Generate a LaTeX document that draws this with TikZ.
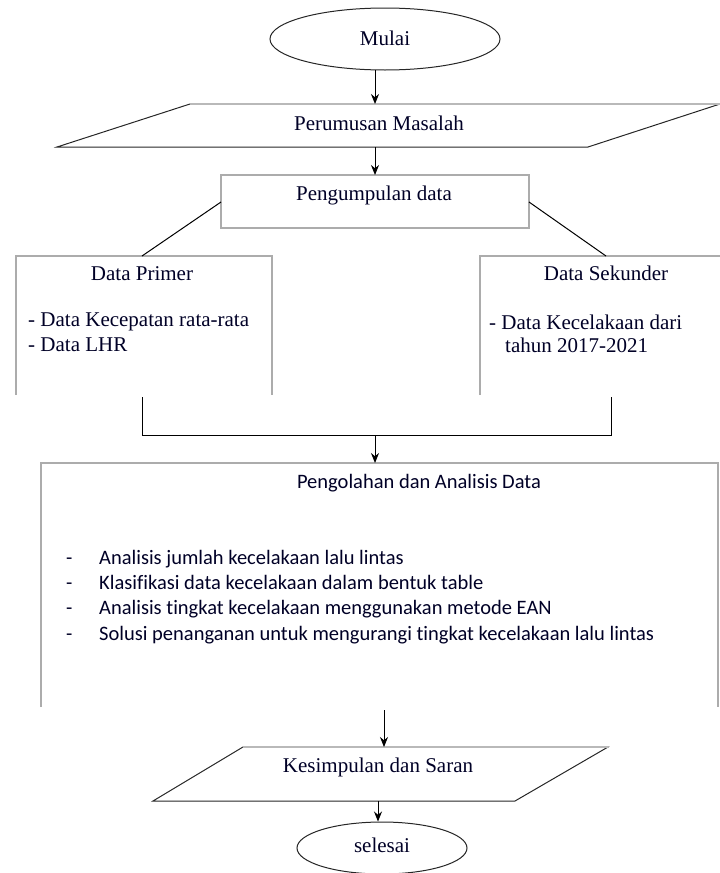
\documentclass[tikz,border=0pt]{standalone}
\usepackage{fontspec}
\setmainfont{Liberation Serif}
\newfontfamily\calib[Ligatures=NoCommon]{Carlito}
\usetikzlibrary{shapes.geometric,arrows.meta}
\begin{document}
\begin{tikzpicture}[x=1pt,y=-1pt,
  every node/.style={font=\fontsize{21}{24}\selectfont, inner sep=0pt, text=black!85!blue},
  sans/.style={font=\calib\fontsize{20.5}{24}\selectfont},
  arr/.style={draw=black, line width=1pt, -{Stealth[length=10pt,width=8pt]}},
  conn/.style={draw=black, line width=1pt},
  boxline/.style={draw=gray!65, line width=1.6pt},
  paraline/.style={draw=black!85, line width=1pt},
  topline/.style={draw=gray!55, line width=1.6pt},
  term/.style={ellipse, draw=black!85, line width=1pt, fill=white}
]
\useasboundingbox (0,0) rectangle (720,873);

% ---- Mulai ----
\node[term, minimum width=230pt, minimum height=62pt] (mulai) at (385,39) {};
\node (tmulai) at (385,38) {Mulai};
\coordinate (mulaiout) at (375,70);

% ---- Perumusan Masalah ----
\draw[paraline] (190,104) -- (720,104) -- (588,147) -- (57,147) -- cycle;
\draw[topline] (190,104) -- (720,104);
\node (perum) at (379,123) {Perumusan Masalah};
\coordinate (perumin) at (375,104);
\coordinate (perumout) at (375,147);

% ---- Pengumpulan data ----
\draw[boxline] (221,175) rectangle (529,228);
\node (peng) at (374,195) {Pengumpulan data};
\coordinate (pengin) at (375,175);
\coordinate (pengL) at (221,202);
\coordinate (pengR) at (529,202);

% ---- Data Primer ----
\draw[boxline] (16,395) -- (16,256) -- (272,256) -- (272,395);
\coordinate (primin) at (142,256);
\coordinate (primout) at (142,397);
\node (primt) at (142,274) {Data Primer};
\node[anchor=west] (prim1) at (28,322) {- Data Kecepatan rata-rata};
\node[anchor=west] (prim2) at (28,345) {- Data LHR};

% ---- Data Sekunder ----
\draw[boxline] (480,395) -- (480,256) -- (720,256);
\coordinate (sekin) at (606,256);
\coordinate (sekout) at (611,397);
\node (sekt) at (606,273) {Data Sekunder};
\node[anchor=west] (sek1) at (489,322) {- Data Kecelakaan dari};
\node[anchor=west] (sek2) at (505,345) {tahun 2017-2021};

% ---- connectors upper part ----
\draw[arr] (mulaiout) -- (perumin);
\draw[arr] (perumout) -- (pengin);
\draw[conn] (pengL) -- (primin);
\draw[conn] (pengR) -- (sekin);
\coordinate (joinL) at (142,435);
\coordinate (joinR) at (611,435);
\coordinate (joinM) at (375,435);
\draw[conn] (primout) -- (joinL) -- (joinR) -- (sekout);

% ---- Pengolahan dan Analisis Data ----
\draw[boxline] (41,707) -- (41,463) -- (718,463) -- (718,707);
\coordinate (olahin) at (375,463);
\draw[arr] (joinM) -- (olahin);
\node[sans] (olaht) at (419,483) {Pengolahan dan Analisis Data};
\foreach \i/\y/\t in {1/564/Analisis jumlah kecelakaan lalu lintas,
                      2/589/Klasifikasi data kecelakaan dalam bentuk table,
                      3/614/Analisis tingkat kecelakaan menggunakan metode EAN,
                      4/640/Solusi penanganan untuk mengurangi tingkat kecelakaan lalu lintas}{
  \node[sans, anchor=base west] (olah\i) at (66,\y) {\makebox[33pt][l]{-}\t};
}
\coordinate (olahout) at (384,710);

% ---- Kesimpulan dan Saran ----
\draw[paraline] (243,747) -- (608,747) -- (515,801) -- (153,801) -- cycle;
\draw[topline] (243,747) -- (608,747);
\node (kes) at (378,767) {Kesimpulan dan Saran};
\coordinate (kesin) at (384,747);
\coordinate (kesout) at (378,801);
\draw[arr] (olahout) -- (kesin);

% ---- selesai ----
\node[term, minimum width=170pt, minimum height=52pt] (selesai) at (382,848) {};
\node (tsel) at (382,845) {selesai};
\draw[arr] (kesout) -- (selesai.north -| kesout);
\end{tikzpicture}
\end{document}
